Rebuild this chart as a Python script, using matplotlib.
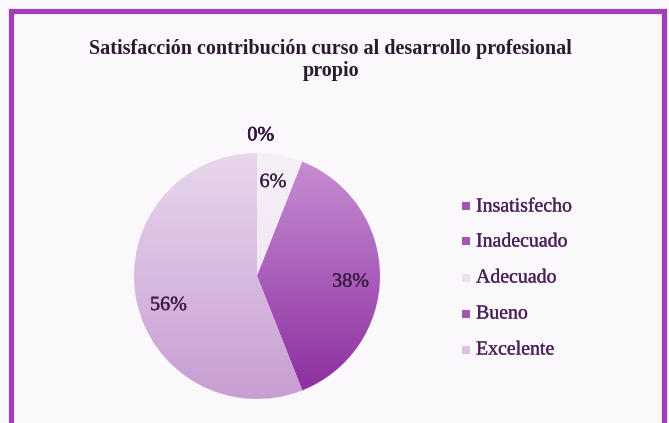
import matplotlib
matplotlib.use("Agg")
import matplotlib.pyplot as plt
import matplotlib.patheffects as pe
import numpy as np
from matplotlib.patches import Rectangle
from matplotlib.colors import LinearSegmentedColormap

categories = ["Insatisfecho", "Inadecuado", "Adecuado", "Bueno", "Excelente"]
values = [0, 0, 6, 38, 56]
labels_pct = ["0%", "0%", "6%", "38%", "56%"]

# (color arriba, color abajo) para el degradado de cada sector
grad_colors = [
    ("#c98ad6", "#8a2a9e"),
    ("#c98ad6", "#8a2a9e"),
    ("#f6f0f7", "#ece0ef"),
    ("#c890d4", "#8b2c9f"),
    ("#e8d6ec", "#c79ed2"),
]
legend_colors = ["#a455b6", "#a455b6", "#ece2ef", "#a455b6", "#dcc3e3"]

text_color = "#3a1a42"
legend_text = "#4b1f58"

# trazo muy fino para engrosar apenas el texto
thick = lambda c: [pe.withStroke(linewidth=0.2, foreground=c)]

fig = plt.figure(figsize=(6.69, 4.23), dpi=100)
fig.patch.set_facecolor("#faf8fb")

# marco morado
fig.patches.append(Rectangle((10.5 / 669, -0.05), 653 / 669, 1 - 11.5 / 423 + 0.05,
                             transform=fig.transFigure, fill=False,
                             edgecolor="#a040b8", lw=3.8, zorder=10))

fig.text(330 / 669, 1 - 49 / 423, "Satisfacción contribución curso al desarrollo profesional",
         ha="center", va="center", fontsize=14.5, fontweight="bold",
         family="Liberation Serif", color="#2a1a2e")
fig.text(331 / 669, 1 - 71 / 423, "propio", ha="center", va="center", fontsize=14.5,
         fontweight="bold", family="Liberation Serif", color="#2a1a2e")

# ejes del pastel: centro (257, 276), radio 123 px
r = 123
ax = fig.add_axes([(257 - r) / 669, 1 - (276 + r) / 423, 2 * r / 669, 2 * r / 423])
ax.set_facecolor("none")

wedges, _ = ax.pie(values, startangle=90, counterclock=False, radius=1,
                   colors=[c[0] for c in grad_colors],
                   wedgeprops=dict(linewidth=0))
ax.set_xlim(-1, 1)
ax.set_ylim(-1, 1)
ax.set_aspect("equal")

for w, (c_top, c_bot) in zip(wedges, grad_colors):
    cmap = LinearSegmentedColormap.from_list("g", [c_bot, c_top])
    grad = np.linspace(0, 1, 256).reshape(-1, 1)
    im = ax.imshow(grad, cmap=cmap, extent=[-1, 1, -1, 1], origin="lower",
                   aspect="auto", zorder=2)
    im.set_clip_path(w)
    w.set_alpha(0)

# etiquetas de porcentaje (posición como en la imagen original)
label_pos = [(0.03, 1.14), (0.03, 1.14), (0.13, 0.76), (0.76, -0.05), (-0.72, -0.24)]
for lab, (lx, ly) in zip(labels_pct, label_pos):
    ax.text(lx, ly, lab, ha="center", va="center", fontsize=14.5,
            family="Liberation Serif", color=text_color, zorder=5,
            path_effects=thick(text_color))

# leyenda
ys = [207, 242, 278, 314, 350]
for name, col, y in zip(categories, legend_colors, ys):
    fig.patches.append(Rectangle((462 / 669, 1 - (y + 3.5) / 423), 8 / 669, 8 / 423,
                                 transform=fig.transFigure, facecolor=col,
                                 edgecolor="none"))
    fig.text(476 / 669, 1 - y / 423, name, ha="left", va="center", fontsize=14.3,
             family="Liberation Serif", color=legend_text,
             path_effects=thick(legend_text))

fig.savefig("out.png", dpi=100, facecolor=fig.get_facecolor())
